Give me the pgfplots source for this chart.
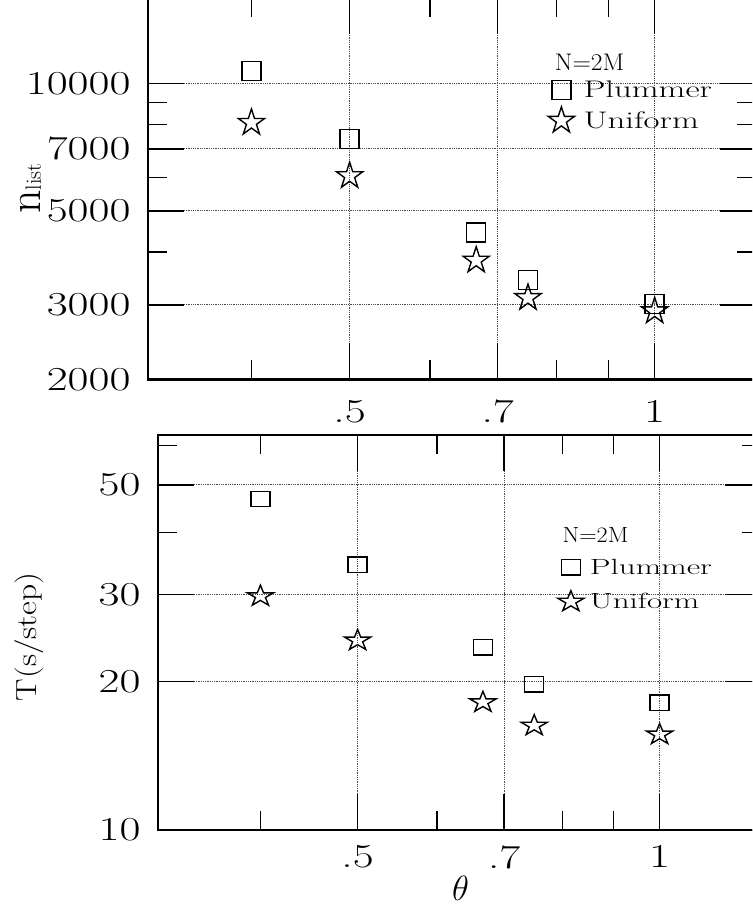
\RequirePackage{fix-cm}
\documentclass[border=0pt]{standalone}
\usepackage{pgfplots}
\pgfplotsset{compat=1.18}
\usepackage{graphicx}

\newcommand{\sx}[1]{\scalebox{1.36}[1]{#1}}
\newcommand{\slg}[1]{\scalebox{1.45}[1]{#1}}

\pgfdeclareplotmark{pstar}{%
  \pgfpathmoveto{\pgfpointpolar{90}{\pgfplotmarksize}}%
  \pgfpathlineto{\pgfpointpolar{126}{0.382*\pgfplotmarksize}}%
  \pgfpathlineto{\pgfpointpolar{162}{\pgfplotmarksize}}%
  \pgfpathlineto{\pgfpointpolar{198}{0.382*\pgfplotmarksize}}%
  \pgfpathlineto{\pgfpointpolar{234}{\pgfplotmarksize}}%
  \pgfpathlineto{\pgfpointpolar{270}{0.382*\pgfplotmarksize}}%
  \pgfpathlineto{\pgfpointpolar{306}{\pgfplotmarksize}}%
  \pgfpathlineto{\pgfpointpolar{342}{0.382*\pgfplotmarksize}}%
  \pgfpathlineto{\pgfpointpolar{18}{\pgfplotmarksize}}%
  \pgfpathlineto{\pgfpointpolar{54}{0.382*\pgfplotmarksize}}%
  \pgfpathclose
  \pgfusepathqstroke
}

\begin{document}
\begin{tikzpicture}
\useasboundingbox (0,0) rectangle (752pt,907pt);
\clip (0,0) rectangle (752pt,907pt);

% ---------------- top panel ----------------
\begin{axis}[
  xmode=log, ymode=log,
  scale only axis,
  at={(148pt,527.5pt)}, anchor=south west,
  width=608pt, height=381pt,
  xmin=0.316228, xmax=1.259,
  ymin=2000, ymax=15848.9,
  axis line style={line width=2.2pt},
  tick align=inside,
  tick pos=both,
  xticklabel pos=lower, yticklabel pos=left,
  major tick length=36pt, minor tick length=19pt,
  every tick/.style={black, line width=1.4pt},
  xtick={0.5,0.7,1},
  minor xtick={0.4,0.6,0.8,0.9},
  xticklabels={\sx{.5},\sx{.7},\sx{1}},
  ytick={2000,3000,5000,7000,10000},
  yticklabels={\sx{2000},\sx{3000},\sx{5000},\sx{7000},\sx{10000}},
  minor ytick={4000,6000,8000,9000},
  grid=major,
  major grid style={black!70, line width=0.8pt, densely dotted},
  tick label style={font=\fontsize{33.5}{37}\selectfont},
  yticklabel style={xshift=-14pt},
  xticklabel style={yshift=-17pt},
  clip=false,
  legend cell align=left,
  ylabel={{\fontsize{46}{50}\selectfont n}{\fontsize{22}{24}\selectfont list}},
  ylabel style={at={(axis description cs:-0.176,0.501)}, anchor=base, inner sep=0pt},
  legend style={draw=none, fill=none, at={(axis description cs:0.658,0.79)}, anchor=north west,
    font=\fontsize{24}{28}\selectfont, row sep=6pt, inner sep=0pt},
]
\addplot[only marks, mark=square, mark size=9.5pt, mark options={line width=1.4pt, black}]
  coordinates {(0.4,10690) (0.5,7393) (0.6667,4443) (0.75,3436) (1,3016)};
\addlegendentry{\hspace{7pt}\slg{Plummer}}
\addplot[only marks, mark=pstar, mark size=13.8pt, mark options={line width=1.4pt, black}]
  coordinates {(0.4,8067) (0.5,6041) (0.6667,3818) (0.75,3115) (1,2898)};
\addlegendentry{\hspace{7pt}\slg{Uniform}}
\node[anchor=base west, font=\fontsize{24}{28}\selectfont, inner sep=0pt]
  at (axis description cs:0.669,0.812) {\scalebox{1.06}[1]{N=2M}};
\end{axis}

% ---------------- bottom panel ----------------
\begin{axis}[
  xmode=log, ymode=log,
  scale only axis,
  at={(158pt,77pt)}, anchor=south west,
  width=603pt, height=395pt,
  xmin=0.316228, xmax=1.262,
  ymin=10, ymax=63.0957,
  axis line style={line width=2.2pt},
  tick align=inside,
  tick pos=both,
  xticklabel pos=lower, yticklabel pos=left,
  major tick length=36pt, minor tick length=19pt,
  every tick/.style={black, line width=1.4pt},
  xtick={0.5,0.7,1},
  minor xtick={0.4,0.6,0.8,0.9},
  xticklabels={\sx{.5},\sx{.7},\sx{1}},
  ytick={10,20,30,50},
  yticklabels={\sx{10},\sx{20},\sx{30},\sx{50}},
  minor ytick={40,60},
  grid=major,
  major grid style={black!70, line width=0.8pt, densely dotted},
  tick label style={font=\fontsize{33.5}{37}\selectfont},
  yticklabel style={xshift=-14pt},
  xticklabel style={yshift=-12pt},
  clip=false,
  legend cell align=left,
  xlabel={$\theta$},
  xlabel style={at={(axis description cs:0.502,-0.147)}, anchor=center, font=\fontsize{35}{38}\selectfont},
  ylabel={\scalebox{1.16}[1]{T(s/step)}},
  ylabel style={at={(axis description cs:-0.214,0.489)}, anchor=center, font=\fontsize{29}{32}\selectfont},
  legend style={draw=none, fill=none, at={(axis description cs:0.6626,0.692)}, anchor=north west,
    font=\fontsize{22}{26}\selectfont, row sep=13pt, inner sep=0pt},
]
\addplot[only marks, mark=square, mark size=9.5pt, mark options={line width=1.4pt, black, yscale=0.8}]
  coordinates {(0.4,46.84) (0.5,34.47) (0.6667,23.45) (0.75,19.73) (1,18.11)};
\addlegendentry{\hspace{4pt}\scalebox{1.5}[1]{Plummer}}
\addplot[only marks, mark=pstar, mark size=13.8pt, mark options={line width=1.4pt, black, yscale=0.8}]
  coordinates {(0.4,29.75) (0.5,24.2) (0.6667,18.14) (0.75,16.27) (1,15.61)};
\addlegendentry{\hspace{4pt}\scalebox{1.5}[1]{Uniform}}
\node[anchor=base west, font=\fontsize{22}{26}\selectfont, inner sep=0pt]
  at (axis description cs:0.6705,0.729) {\scalebox{1.1}[1]{N=2M}};
\end{axis}
\end{tikzpicture}
\end{document}
